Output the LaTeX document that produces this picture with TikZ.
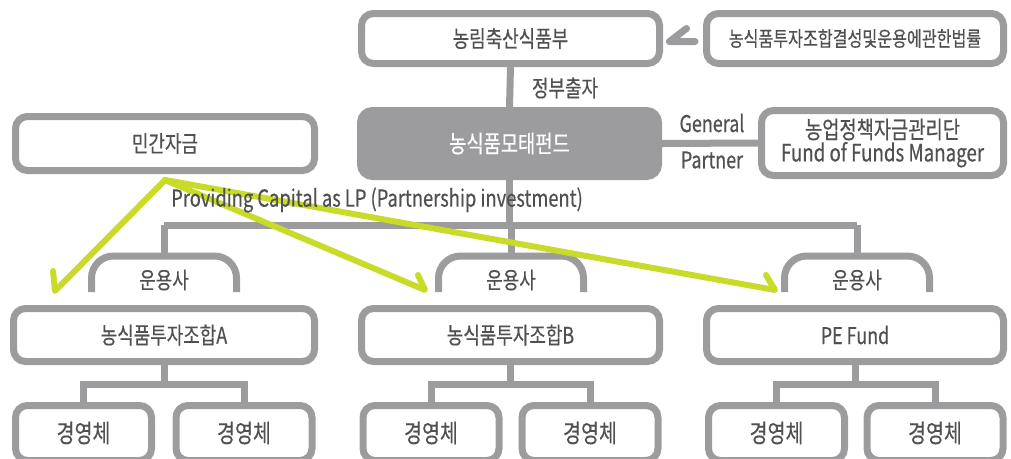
\documentclass[tikz,border=0pt]{standalone}
\usepackage{fontspec}
\setmainfont{Noto Sans CJK KR}[FakeStretch=0.78, FakeBold=0.4]
\usetikzlibrary{calc}
\definecolor{lgray}{RGB}{156,156,158}
\definecolor{tgray}{RGB}{80,80,80}
\definecolor{lgreen}{RGB}{200,219,40}
\newcommand\fsz[1]{\fontsize{#1}{#1}\selectfont}
\tikzset{
  box/.style={draw=lgray, line width=7pt, rounded corners=12pt, fill=white, text=tgray, inner sep=0pt, align=center, font=\fsz{23}},
  darkbox/.style={box, fill=lgray, text=white},
  conn/.style={draw=lgray, line width=7pt},
  garrow/.style={draw=lgreen, line width=6pt, line cap=round, line join=round},
  lbl/.style={text=tgray, inner sep=0pt, font=\fsz{23}},
  archline/.style={draw=lgray, line width=7pt, rounded corners=22pt},
}
\begin{document}
\begin{tikzpicture}[x=1pt,y=-1pt]
\useasboundingbox (0,0) rectangle (1011,458);
\clip (0,0) rectangle (1011,458);
% top row
\node[box, minimum width=298pt, minimum height=50pt] (nong) at (510.5,38.5) {농림축산식품부};
\node[box, minimum width=297pt, minimum height=50pt, font=\fsz{20.7}] (law) at (855,38.5) {농식품투자조합결성및운용에관한법률};
% middle row
\node[darkbox, minimum width=298pt, minimum height=66pt, font=\fsz{24}] (mother) at (509.5,143.5) {농식품모태펀드};
\node[box, minimum width=242pt, minimum height=65pt, font=\fsz{24}] (fofm) at (882.5,143) {농업정책자금관리단\\[-1pt]Fund of Funds Manager};
\node[box, minimum width=299pt, minimum height=54pt] (private) at (165,143.5) {민간자금};
% funds
\node[box, minimum width=301pt, minimum height=53pt] (fundA) at (164,335) {농식품투자조합A};
\node[box, minimum width=298pt, minimum height=53pt] (fundB) at (510.5,335) {농식품투자조합B};
\node[box, minimum width=297pt, minimum height=53pt] (fundPE) at (855,335) {PE Fund};
% operators
\node[lbl] (gpA) at (164,280) {운용사};
\node[lbl] (gpB) at (511,280) {운용사};
\node[lbl] (gpPE) at (857,280) {운용사};
% enterprises
\foreach \n/\x in {eA1/83.5, eA2/244, eB1/431, eB2/590, ePE1/776.5, ePE2/935}{
  \node[box, minimum width=136pt, minimum height=55pt, font=\fsz{25}] (\n) at (\x,433) {경영체};
}
% labels
\node[lbl] (gov) at (565,88) {정부출자};
\node[lbl] (gen) at (712,123) {General};
\node[lbl] (par) at (712,160) {Partner};
% connectors
\draw[conn] (nong.south) -- (mother.north);
\draw[conn] (mother.east) -- (fofm.west);
\coordinate (busA) at (164,225);
\coordinate (busB) at (509.5,225);
\coordinate (busPE) at (857,225);
\draw[conn] (mother.south) -- (busB);
\draw[conn] (busA) -- (busPE);
\foreach \g in {gpA,gpB,gpPE}{
  \draw[conn] (\g |- busA) -- ($(\g)+(0,-24)$);
  \draw[archline] ($(\g)+(-72.5,12)$) |- ($(\g)+(0,-24)$) -| ($(\g)+(72.5,12)$);
}
\foreach \f/\a/\b in {fundA/eA1/eA2, fundB/eB1/eB2, fundPE/ePE1/ePE2}{
  \coordinate (j\f) at ($(\f.south)+(0,19)$);
  \draw[conn] (\f.south) -- (j\f);
  \draw[conn] (\a.north) |- (j\f) -| (\b.north);
}
% law arrow (harpoon)
\coordinate (lawT) at ($(nong.east)+(6.5,3)$);
\draw[garrow, draw=lgray, line width=7pt] ($(law.west)+(-8,3)$) -- (lawT) -- ++(17,-13);
% green arrows
\coordinate (gs) at ($(private.south)+(0,6)$);
\coordinate (tA) at (55,291);
\coordinate (tB) at (425,290);
\coordinate (tPE) at (775,290);
\draw[garrow] (gs) -- (tA) -- ++(-2,-20);
\draw[garrow] (gs) -- (tB) -- ++(-7,-15);
\draw[garrow] (gs) -- (tPE) -- ++(-9,-15);
\node[lbl, font=\fsz{23.5}] (lp) at (377,200) {Providing Capital as LP (Partnership investment)};
\end{tikzpicture}
\end{document}
